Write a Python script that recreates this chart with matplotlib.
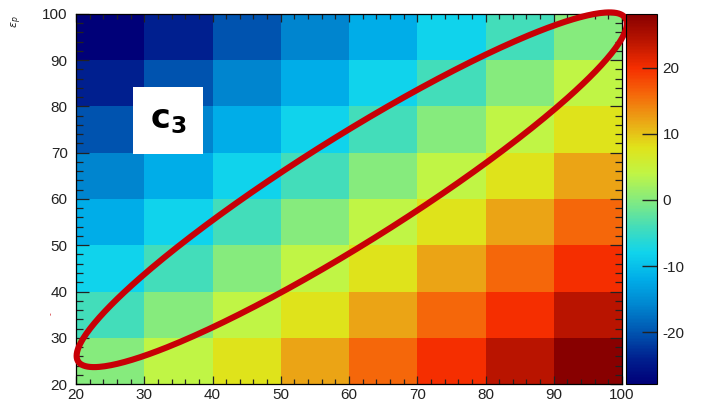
import numpy as np
import matplotlib
matplotlib.use("Agg")
import matplotlib.pyplot as plt
from matplotlib.colors import LinearSegmentedColormap, Normalize
from matplotlib.patches import Rectangle
from matplotlib.ticker import MultipleLocator

plt.rcParams['font.family'] = ['Liberation Sans', 'DejaVu Sans']
plt.rcParams['mathtext.fontset'] = 'dejavusans'
plt.rcParams['axes.unicode_minus'] = False

# ----- data -----
x_edges = [20, 30, 40, 50, 60, 70, 80, 90, 100]
y_edges = [20, 30, 40, 50, 60, 70, 80, 90, 100]
# rows from y=20..30 (bottom) up to y=90..100 (top)
z = [
    [0, 4, 8, 12, 16, 20, 24, 28.1],
    [-4, 0, 4, 8, 12, 16, 20, 24],
    [-8, -4, 0, 4, 8, 12, 16, 20],
    [-12, -8, -4, 0, 4, 8, 12, 16],
    [-16, -12, -8, -4, 0, 4, 8, 12],
    [-20, -16, -12, -8, -4, 0, 4, 8],
    [-24, -20, -16, -12, -8, -4, 0, 4],
    [-27.8, -24, -20, -16, -12, -8, -4, 0],
]
cbar_ticks = [-20, -10, 0, 10, 20]

# palette anchors (value, colour) picked from the cells
pal_vals = [-27.8, -24, -20, -16, -12, -8, -4, 0, 4, 8, 12, 16, 20, 24, 28.1]
pal_cols = ['#000078', '#00208f', '#0055b0', '#0085cf', '#00ade8', '#10d4ec',
            '#45ddb8', '#85eb7e', '#c0f545', '#e0e31a', '#eba515', '#f5680a',
            '#f52e00', '#bb1500', '#880000']

z = np.array(z)
vmin, vmax = z.min(), z.max()
pos = [(v - vmin) / (vmax - vmin) for v in pal_vals]
cmap = LinearSegmentedColormap.from_list('rootpal', list(zip(pos, pal_cols)), N=256)
norm = Normalize(vmin=vmin, vmax=vmax)

fig = plt.figure(figsize=(7.03, 4.04), dpi=100)
ax = fig.add_axes([76 / 703, 20 / 404, 546 / 703, 370 / 404])
cax = fig.add_axes([626 / 703, 20 / 404, 31 / 703, 370 / 404])

mesh = ax.pcolormesh(x_edges, y_edges, z, cmap=cmap, norm=norm, shading='flat')
ax.set_xlim(20, 100)
ax.set_ylim(20, 100)

ax.xaxis.set_major_locator(MultipleLocator(10))
ax.xaxis.set_minor_locator(MultipleLocator(2))
ax.yaxis.set_major_locator(MultipleLocator(10))
ax.yaxis.set_minor_locator(MultipleLocator(2))
ax.tick_params(which='both', direction='in', top=True, right=True,
               labelsize=11, colors='#222222', width=0.9)
ax.tick_params(axis='x', which='major', length=6, pad=3)
ax.tick_params(axis='x', which='minor', length=3.5)
ax.tick_params(axis='y', which='major', length=9, pad=6)
ax.tick_params(axis='y', which='minor', length=5)
for s in ax.spines.values():
    s.set_linewidth(0.9)

# colour bar
cb = fig.colorbar(mesh, cax=cax)
cb.set_ticks(cbar_ticks)
cb.ax.tick_params(direction='in', length=11, width=1.0, labelsize=11,
                  colors='#222222', pad=4)
cb.ax.minorticks_off()
cb.outline.set_linewidth(0.8)

# red ellipse around the diagonal band
ell_c = (60.4, 62.0)
ell_u = (40.1, 37.1)
ell_v = (4.1, -9.7)
t = np.linspace(0, 2 * np.pi, 400)
ex = ell_c[0] + np.cos(t) * ell_u[0] + np.sin(t) * ell_v[0]
ey = ell_c[1] + np.cos(t) * ell_u[1] + np.sin(t) * ell_v[1]
ax.plot(ex, ey, color='#c80006', lw=4.4, clip_on=False, zorder=5,
        solid_capstyle='round')

# label box
ax.add_patch(Rectangle((28.4, 69.8), 10.2, 14.5, facecolor='white',
                       edgecolor='none', zorder=6))
ax.text(33.5, 77.0, r'$\mathbf{c_3}$', fontsize=24, ha='center', va='center',
        zorder=7)

# axis title fragment at top left
fig.text(17 / 703, 1 - 22 / 404, r'$\epsilon_p$', rotation=90, fontsize=8,
         ha='center', va='center', color='#222222')
fig.text(51 / 703, 1 - 314 / 404, '-', rotation=90, fontsize=6,
         ha='center', va='center', color='#c80006')

fig.savefig('out.png', dpi=100)
